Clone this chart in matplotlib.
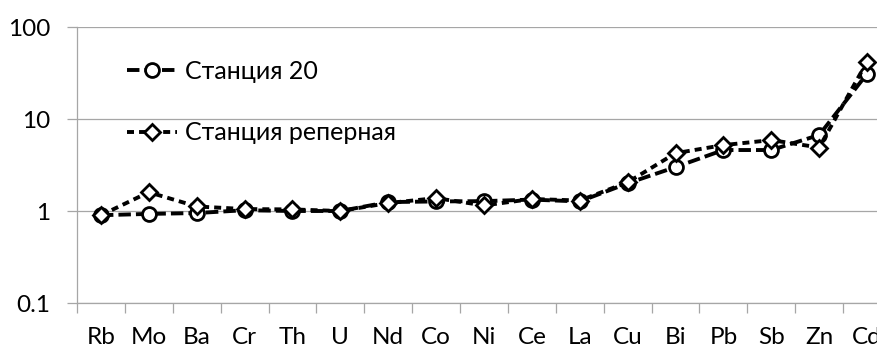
import matplotlib.pyplot as plt
import numpy as np

plt.rcParams['font.family'] = ['Lato', 'DejaVu Sans']

# Normalised element concentrations at two stations
elements = ['Rb', 'Mo', 'Ba', 'Cr', 'Th', 'U', 'Nd', 'Co', 'Ni', 'Ce', 'La',
            'Cu', 'Bi', 'Pb', 'Sb', 'Zn', 'Cd']
station_20 = [0.9, 0.93, 0.95, 1.02, 1.0, 1.0, 1.25, 1.27, 1.28, 1.33, 1.27,
              2.0, 3.0, 4.6, 4.6, 6.7, 31]
station_ref = [0.9, 1.6, 1.12, 1.05, 1.04, 1.0, 1.22, 1.38, 1.15, 1.35, 1.3,
               2.05, 4.25, 5.2, 5.9, 4.9, 42]

x = np.arange(len(elements))

fig = plt.figure(figsize=(8.78, 3.49), dpi=100)
# plot area runs slightly past the right edge of the figure
ax = fig.add_axes([77 / 878, 46 / 349, 814 / 878, 276 / 349])

ax.plot(x, station_20, color='black', lw=2.8, dashes=(3.2, 1.3),
        marker='o', ms=10, mfc='white', mec='black', mew=2.0,
        label='Станция 20', zorder=3)
ax.plot(x, station_ref, color='black', lw=2.8, dashes=(1.8, 1.3),
        marker='D', ms=8.5, mfc='white', mec='black', mew=2.0,
        label='Станция реперная', zorder=4)

ax.set_yscale('log')
ax.set_ylim(0.1, 100)
ax.set_xlim(-0.5, len(elements) - 0.5)

ax.set_yticks([0.1, 1, 10, 100])
ax.set_yticklabels(['0.1', '1', '10', '100'])
ax.yaxis.set_minor_locator(plt.NullLocator())
ax.tick_params(axis='y', which='major', length=7, width=0.9, color='#a6a6a6',
               labelsize=17.5, pad=12)

ax.set_xticks(x)
ax.set_xticklabels(elements)
ax.set_xticks(np.arange(len(elements) + 1) - 0.5, minor=True)
ax.tick_params(axis='x', which='major', length=0, labelsize=17.5, pad=17)
ax.tick_params(axis='x', which='minor', length=7, width=0.9, color='#a6a6a6')

ax.grid(axis='y', which='major', color='#a6a6a6', lw=0.9)
ax.set_axisbelow(True)
for side in ['top', 'right']:
    ax.spines[side].set_visible(False)
for side in ['left', 'bottom']:
    ax.spines[side].set_color('#a6a6a6')
    ax.spines[side].set_linewidth(0.9)

ax.legend(loc='upper left', bbox_to_anchor=(0.061, 0.882), frameon=False,
          fontsize=18, handlelength=2.0, handletextpad=0.35, labelspacing=1.55,
          borderpad=0, borderaxespad=0)

fig.savefig('out.png', dpi=100)
